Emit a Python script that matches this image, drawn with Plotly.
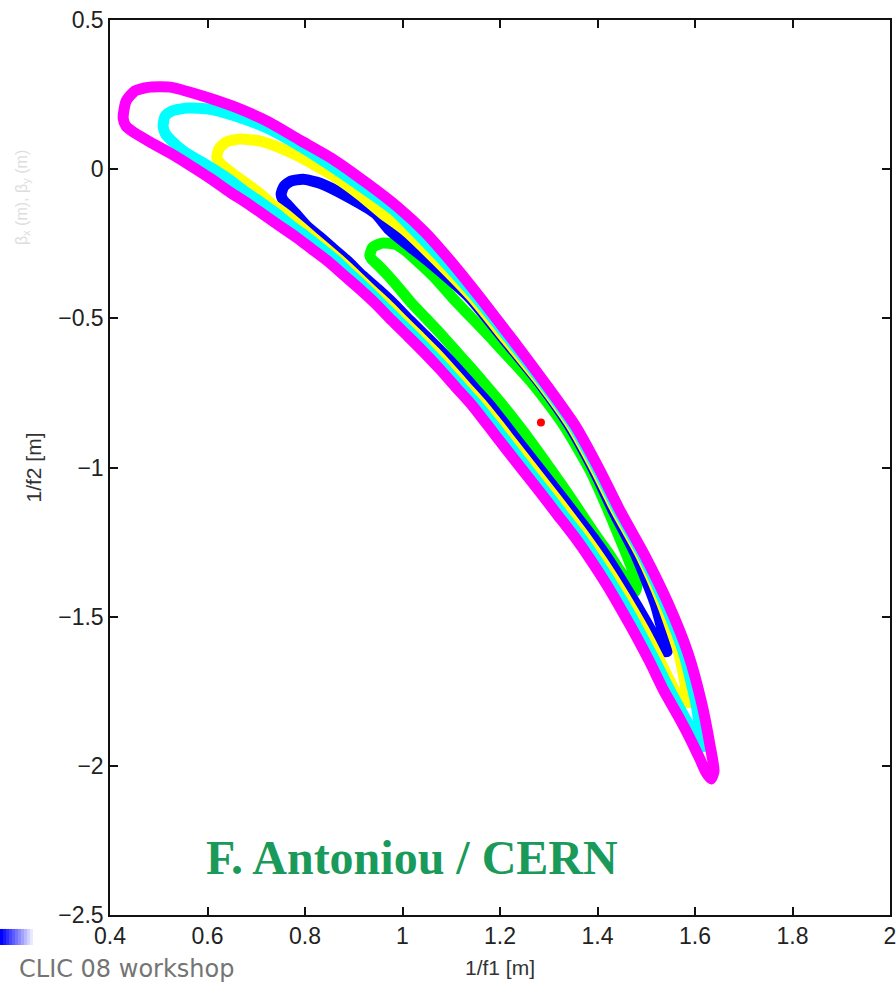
import plotly.graph_objects as go

# ---- contour data (1/f1 [m], 1/f2 [m]) ----
magenta_x = [0.427, 0.433, 0.451, 0.482, 0.523, 0.585, 0.652, 0.722, 0.790, 0.857, 0.927, 0.991, 1.046, 1.097,
             1.159, 1.227, 1.296, 1.354, 1.405, 1.446, 1.497, 1.545, 1.586, 1.614, 1.631, 1.639, 1.633, 1.623,
             1.610, 1.590, 1.565, 1.536, 1.508, 1.479, 1.450, 1.420, 1.387, 1.354, 1.319, 1.284, 1.247, 1.210,
             1.175, 1.143, 1.110, 1.077, 1.044, 1.011, 0.978, 0.946, 0.913, 0.880, 0.847, 0.814, 0.782, 0.749,
             0.714, 0.681, 0.646, 0.605, 0.564, 0.523, 0.482, 0.451, 0.433, 0.427]
magenta_y = [0.171, 0.228, 0.262, 0.275, 0.275, 0.248, 0.211, 0.161, 0.097, 0.034, -0.047, -0.128, -0.211, -0.305,
             -0.430, -0.574, -0.725, -0.859, -1.010, -1.144, -1.295, -1.456, -1.624, -1.792, -1.933, -2.017, -2.044, -2.023,
             -1.977, -1.909, -1.832, -1.748, -1.654, -1.564, -1.480, -1.396, -1.312, -1.235, -1.161, -1.087, -1.010, -0.933,
             -0.859, -0.792, -0.732, -0.671, -0.614, -0.560, -0.507, -0.453, -0.403, -0.356, -0.309, -0.268, -0.228, -0.191,
             -0.151, -0.114, -0.077, -0.030, 0.013, 0.054, 0.091, 0.121, 0.144, 0.171]

cyan_x = [0.509, 0.513, 0.527, 0.560, 0.605, 0.652, 0.722, 0.790, 0.857, 0.923, 0.985, 1.024, 1.083, 1.151,
          1.221, 1.292, 1.350, 1.401, 1.442, 1.493, 1.538, 1.577, 1.602, 1.612, 1.616,
          1.608, 1.596, 1.577, 1.549, 1.520, 1.491, 1.463, 1.432, 1.399, 1.366, 1.331, 1.296, 1.259, 1.223,
          1.188, 1.155, 1.122, 1.089, 1.056, 1.024, 0.991, 0.958, 0.927, 0.896, 0.866, 0.835, 0.804, 0.773,
          0.743, 0.712, 0.679, 0.640, 0.599, 0.554, 0.527, 0.513, 0.509]
cyan_y = [0.144, 0.178, 0.195, 0.205, 0.201, 0.181, 0.138, 0.077, 0.007, -0.067, -0.141, -0.205, -0.305, -0.430,
          -0.574, -0.725, -0.859, -1.010, -1.144, -1.295, -1.456, -1.624, -1.792, -1.899, -1.936,
          -1.933, -1.889, -1.832, -1.748, -1.654, -1.564, -1.480, -1.396, -1.312, -1.235, -1.161, -1.087, -1.010, -0.933,
          -0.859, -0.792, -0.732, -0.671, -0.614, -0.560, -0.507, -0.453, -0.403, -0.356, -0.309, -0.268, -0.228, -0.191,
          -0.151, -0.114, -0.077, -0.030, 0.013, 0.057, 0.094, 0.121, 0.144]

yellow_x = [0.619, 0.624, 0.638, 0.667, 0.708, 0.755, 0.810, 0.862, 0.913, 0.958, 1.005, 1.069, 1.143, 1.214,
            1.288, 1.346, 1.397, 1.438, 1.489, 1.532, 1.567, 1.582, 1.586,
            1.575, 1.559, 1.530, 1.502, 1.473, 1.442, 1.409, 1.376, 1.342, 1.307, 1.270, 1.233, 1.198, 1.165,
            1.132, 1.099, 1.067, 1.034, 1.001, 0.968, 0.935, 0.905, 0.874, 0.845, 0.816, 0.790, 0.761, 0.730,
            0.704, 0.679, 0.656, 0.638, 0.626, 0.619]
yellow_y = [0.040, 0.070, 0.091, 0.101, 0.094, 0.067, 0.023, -0.027, -0.087, -0.148, -0.205, -0.305, -0.430, -0.574,
            -0.725, -0.859, -1.010, -1.144, -1.295, -1.456, -1.624, -1.748, -1.789,
            -1.775, -1.748, -1.654, -1.564, -1.480, -1.396, -1.312, -1.235, -1.161, -1.087, -1.010, -0.933, -0.859, -0.792,
            -0.732, -0.671, -0.614, -0.560, -0.507, -0.453, -0.403, -0.356, -0.309, -0.268, -0.228, -0.191, -0.151, -0.114,
            -0.077, -0.047, -0.020, 0.003, 0.020, 0.040]

blue_x = [0.751, 0.757, 0.771, 0.796, 0.831, 0.886, 0.944, 0.974, 1.050, 1.137, 1.210, 1.285, 1.342, 1.393,
          1.432, 1.479, 1.518, 1.538, 1.543,
          1.532, 1.516, 1.487, 1.456, 1.424, 1.391, 1.356, 1.321, 1.284, 1.247, 1.212, 1.180, 1.147, 1.114,
          1.081, 1.048, 1.015, 0.983, 0.950, 0.917, 0.888, 0.859, 0.831, 0.804, 0.782, 0.765, 0.755, 0.751]
blue_y = [-0.084, -0.057, -0.040, -0.034, -0.047, -0.091, -0.148, -0.205, -0.305, -0.430, -0.574, -0.725, -0.859, -1.010,
          -1.144, -1.295, -1.456, -1.581, -1.617,
          -1.614, -1.564, -1.480, -1.396, -1.312, -1.235, -1.161, -1.087, -1.010, -0.933, -0.859, -0.792, -0.732, -0.671,
          -0.614, -0.560, -0.507, -0.453, -0.403, -0.356, -0.309, -0.268, -0.228, -0.191, -0.151, -0.121, -0.104, -0.084]

green_x = [0.933, 0.939, 0.958, 0.985, 1.005, 1.028, 1.065, 1.102, 1.186, 1.270, 1.331, 1.385, 1.422, 1.452,
           1.471, 1.481, 1.477,
           1.465, 1.446, 1.426, 1.401, 1.376, 1.350, 1.323, 1.294, 1.266, 1.237, 1.206, 1.175, 1.143, 1.112,
           1.081, 1.050, 1.019, 0.993, 0.970, 0.950, 0.937, 0.933]
green_y = [-0.289, -0.262, -0.248, -0.252, -0.272, -0.305, -0.362, -0.430, -0.574, -0.725, -0.859, -1.010, -1.144, -1.262,
           -1.339, -1.396, -1.416,
           -1.389, -1.346, -1.295, -1.238, -1.178, -1.114, -1.050, -0.983, -0.919, -0.856, -0.792, -0.732, -0.671, -0.614,
           -0.557, -0.503, -0.450, -0.399, -0.356, -0.322, -0.302, -0.289]

optimum_x = [1.284]
optimum_y = [-0.849]

x_ticks = [0.4, 0.6, 0.8, 1.0, 1.2, 1.4, 1.6, 1.8, 2.0]
x_ticktext = ["0.4", "0.6", "0.8", "1", "1.2", "1.4", "1.6", "1.8", "2"]
y_ticks = [0.5, 0.0, -0.5, -1.0, -1.5, -2.0, -2.5]
y_ticktext = ["0.5", "0", "\u22120.5", "\u22121", "\u22121.5", "\u22122", "\u22122.5"]

fig = go.Figure()
series = [
    (green_x, green_y, "#00ff00"),
    (blue_x, blue_y, "#0000ff"),
    (yellow_x, yellow_y, "#ffff00"),
    (cyan_x, cyan_y, "#00ffff"),
    (magenta_x, magenta_y, "#ff00ff"),
]
for xs, ys, col in series:
    fig.add_trace(go.Scatter(x=xs, y=ys, mode="lines", line=dict(color=col, width=11, shape="spline", smoothing=0.6),
                             hoverinfo="skip", showlegend=False))
fig.add_trace(go.Scatter(x=optimum_x, y=optimum_y, mode="markers", marker=dict(color="#ff0000", size=8),
                         hoverinfo="skip", showlegend=False))

axis_font = dict(family="Liberation Sans, Arial, sans-serif", size=23, color="#222222")
fig.update_xaxes(range=[0.4, 2.0], tickvals=x_ticks, ticktext=x_ticktext, ticks="inside", ticklen=8,
                 tickwidth=1.5, tickcolor="#111", showline=True, linecolor="#111", linewidth=1.5, mirror="ticks",
                 showgrid=False, zeroline=False, tickfont=axis_font, automargin=False, ticklabeloverflow="allow")
fig.update_yaxes(range=[-2.5, 0.5], tickvals=y_ticks, ticktext=y_ticktext, ticks="inside", ticklen=8,
                 tickwidth=1.5, tickcolor="#111", showline=True, linecolor="#111", linewidth=1.5, mirror="ticks",
                 showgrid=False, zeroline=False, tickfont=axis_font, automargin=False, ticklabeloverflow="allow")

annotations = [
    dict(text="1/f1 [m]", x=0.5, y=-0.0592, xref="paper", yref="paper", showarrow=False,
         xanchor="center", yanchor="middle",
         font=dict(family="Liberation Sans, Arial, sans-serif", size=21, color="#333")),
    dict(text="1/f2 [m]", x=-0.0987, y=0.5, xref="paper", yref="paper", showarrow=False, textangle=-90,
         xanchor="center", yanchor="middle",
         font=dict(family="Liberation Sans, Arial, sans-serif", size=21, color="#333")),
    dict(text="\u03b2<sub>x</sub> (m), \u03b2<sub>y</sub> (m)", x=-0.1128, y=0.801, xref="paper", yref="paper",
         showarrow=False, textangle=-90, xanchor="center", yanchor="middle",
         font=dict(family="Liberation Sans, Arial, sans-serif", size=16, color="#dddddd")),
    dict(text="<b>F. Antoniou / CERN</b>", x=0.387, y=0.0648, xref="paper", yref="paper", showarrow=False,
         xanchor="center", yanchor="middle",
         font=dict(family="Liberation Serif, Times New Roman, serif", size=48, color="#1a9a5a")),
    dict(text="CLIC 08 workshop", x=-0.119, y=-0.0603, xref="paper", yref="paper", showarrow=False,
         xanchor="left", yanchor="middle",
         font=dict(family="DejaVu Sans, Verdana, sans-serif", size=24, color="#747474")),
]

# blue fading bar (slide decoration)
shapes = []
n_seg = 12
for i in range(n_seg):
    t = i / (n_seg - 1)
    r = int(round(255 * t)); g = int(round(255 * t))
    x0 = -0.141 + i * (0.046 / n_seg)
    shapes.append(dict(type="rect", xref="paper", yref="paper", x0=x0, x1=x0 + 0.046 / n_seg + 0.001,
                       y0=-0.0335, y1=-0.0156, line=dict(width=0), fillcolor=f"rgb({r},{g},255)", layer="below"))

fig.update_layout(width=896, height=982, margin=dict(l=110, r=6, t=20, b=67, autoexpand=False), autosize=False,
                  paper_bgcolor="white", plot_bgcolor="white", annotations=annotations, shapes=shapes)

fig.write_html("out.html", config={"responsive": False, "displayModeBar": False},
               post_script="document.body.style.margin='0px';document.body.style.overflow='hidden';")
